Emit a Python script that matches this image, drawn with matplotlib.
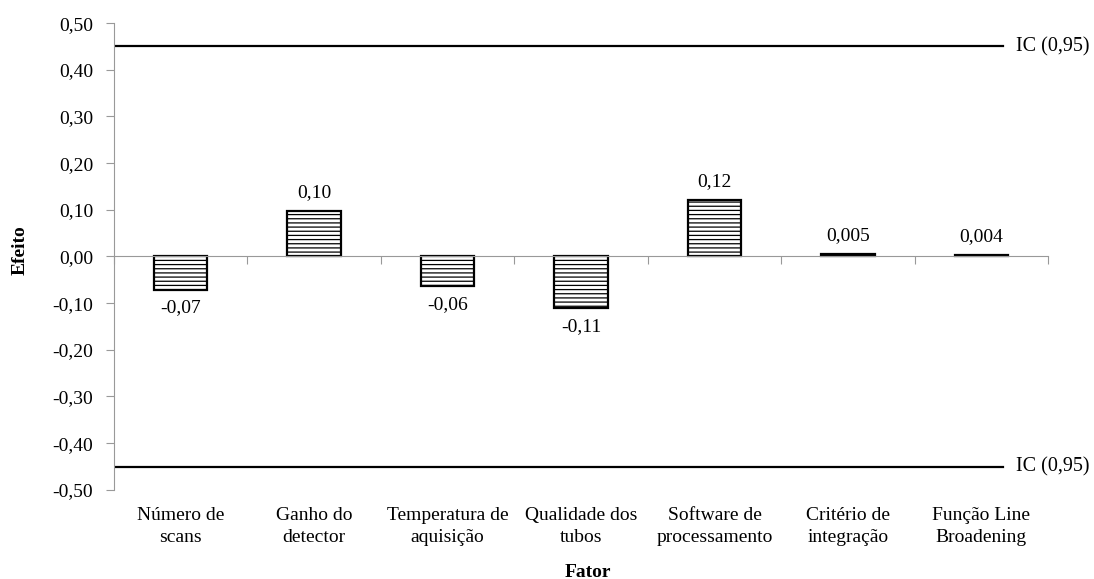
import numpy as np
import matplotlib
matplotlib.use("Agg")
import matplotlib.pyplot as plt
from matplotlib.ticker import FuncFormatter

# --- dados ---
fatores = ["Número de\nscans", "Ganho do\ndetector", "Temperatura de\naquisição",
           "Qualidade dos\ntubos", "Software de\nprocessamento", "Critério de\nintegração",
           "Função Line\nBroadening"]
efeitos = [-0.071, 0.098, -0.064, -0.111, 0.121, 0.005, 0.004]
ic_limite = 0.45
ic_rotulo = "IC (0,95)"

plt.rcParams['font.family'] = ['Liberation Serif', 'DejaVu Serif']
plt.rcParams['hatch.linewidth'] = 0.9

fig = plt.figure(figsize=(10.94, 5.79), dpi=100)
ax = fig.add_axes([0.1042, 0.154, 0.8538, 0.806])

x = np.arange(len(fatores))
ax.bar(x, efeitos, width=0.4, color='white', edgecolor='black', linewidth=1.6, hatch='----')

# rótulos dos valores
def fmt(v):
    s = f"{v:.2f}" if abs(v) >= 0.01 else f"{v:.3f}"
    return s.replace('.', ',')

for xi, v in zip(x, efeitos):
    if v >= 0:
        ax.annotate(fmt(v), (xi, v), xytext=(0, 7), textcoords='offset points',
                    ha='center', va='bottom', fontsize=14)
    else:
        ax.annotate(fmt(v), (xi, v), xytext=(0, -7), textcoords='offset points',
                    ha='center', va='top', fontsize=14)

# limites do intervalo de confiança
xmax_frac = 0.952
for lim in (ic_limite, -ic_limite):
    ax.axhline(lim, xmin=0, xmax=xmax_frac, color='black', linewidth=1.6)
    ax.text(xmax_frac + 0.014, lim, ic_rotulo, transform=ax.get_yaxis_transform(),
            ha='left', va='center', fontsize=14.5)

ax.set_xlim(-0.5, len(fatores) - 0.5)
ax.set_ylim(-0.5, 0.5)
ax.set_yticks(np.round(np.arange(-0.5, 0.51, 0.1), 2))
ax.yaxis.set_major_formatter(FuncFormatter(lambda v, p: f"{v:.2f}".replace('.', ',').replace('-0,00', '0,00')))
ax.tick_params(axis='y', labelsize=14, color='#999999', length=6, width=0.8, pad=9)

# eixo x na linha do zero, marcas entre categorias
ax.spines['bottom'].set_position(('data', 0))
for s in ('top', 'right'):
    ax.spines[s].set_visible(False)
for s in ('left', 'bottom'):
    ax.spines[s].set_color('#999999')
    ax.spines[s].set_linewidth(0.8)
ax.set_xticks(np.arange(-0.5, len(fatores), 1.0))
ax.set_xticklabels([])
ax.tick_params(axis='x', color='#999999', length=6, width=0.8, direction='out')

for xi, nome in zip(x, fatores):
    ax.text(xi, -0.037, nome, transform=ax.get_xaxis_transform(), ha='center', va='top',
            fontsize=14, linespacing=1.35)

fig.text(0.018, 0.568, "Efeito", rotation=90, ha='center', va='center', fontsize=14, fontweight='bold')
fig.text(0.537, 0.012, "Fator", ha='center', va='center', fontsize=14, fontweight='bold')

fig.savefig("out.png", dpi=100)
